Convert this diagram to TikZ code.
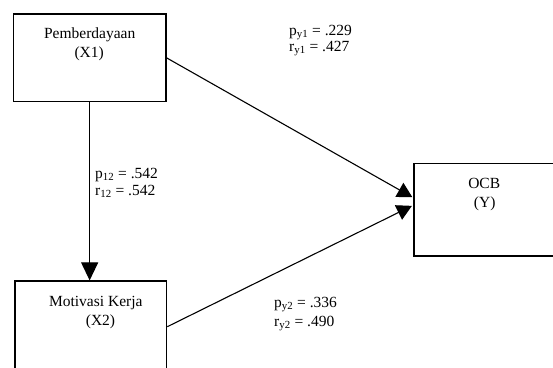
\documentclass[tikz,border=0pt]{standalone}
\usepackage{fontspec}
\setmainfont{Liberation Serif}
\usetikzlibrary{arrows.meta}
\tikzset{
  boxnode/.style={draw=black, line width=1.2pt, rectangle, inner sep=0pt},
  txt/.style={inner sep=0pt, anchor=base, font=\fontsize{15.5}{18}\selectfont},
  lbl/.style={inner sep=0pt, anchor=base west, font=\fontsize{15.5}{18}\selectfont},
  conn/.style={line width=1.1pt, draw=black},
  vtip/.style={-{Triangle[length=18pt,width=17pt]}},
  dtip/.style={-{Triangle[length=15pt,width=16pt]}}
}
\begin{document}
\begin{tikzpicture}[x=1pt,y=-1pt]
\useasboundingbox (0,0) rectangle (553,367);
\clip (0,0) rectangle (553,367);
\fill[white] (0,0) rectangle (553,367);
% boxes
\node[boxnode, minimum width=152.7pt, minimum height=87.7pt] (x1) at (89.65,57.85) {};
\node[boxnode, minimum width=151.7pt, minimum height=91.4pt] (x2) at (90.85,326.7) {};
\node[boxnode, minimum width=153pt, minimum height=92.7pt] (ocb) at (490.5,209.65) {};
% box texts
\node[txt] (x1a) at (89.7,38.3) {Pemberdayaan};
\node[txt] (x1b) at (89.2,57.3) {(X1)};
\node[txt] (x2a) at (95.8,306) {Motivasi Kerja};
\node[txt] (x2b) at (100.5,325) {(X2)};
\node[txt] (ocba) at (484.2,188.3) {OCB};
\node[txt] (ocbb) at (484.7,207) {(Y)};
% coefficient labels
\node[lbl] (py1) at (289,35) {p\textsubscript{y1} = .229};
\node[lbl] (ry1) at (289,51.7) {r\textsubscript{y1} = .427};
\node[lbl] (p12) at (95,178.3) {p\textsubscript{12} = .542};
\node[lbl] (r12) at (95,195) {r\textsubscript{12} = .542};
\node[lbl] (py2) at (274,307.3) {p\textsubscript{y2} = .336};
\node[lbl] (ry2) at (274,326) {r\textsubscript{y2} = .490};
% connectors
\coordinate (t1) at ([yshift=12.4pt]ocb.west);
\coordinate (t2) at ([yshift=3.8pt]ocb.west);
\draw[conn, vtip] (x1.south) -- (x1.south |- x2.north);
\draw[conn, dtip] (x1.east) -- ([xshift=-1pt]t1);
\draw[conn, dtip] (x2.east) -- ([xshift=-1.5pt]t2);
\end{tikzpicture}
\end{document}
